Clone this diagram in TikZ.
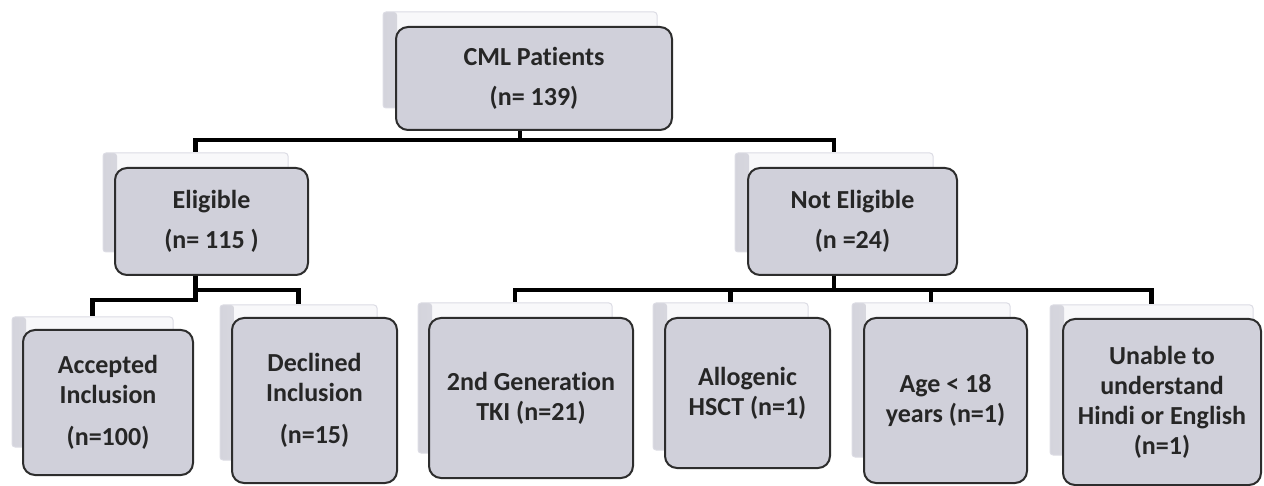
\documentclass[tikz,border=0pt]{standalone}
\usepackage{fontspec}
\setmainfont{Carlito}[RawFeature={-liga;-clig;-calt;-dlig}]
\usepackage{tikz}

\definecolor{boxfill}{RGB}{208,208,218}
\definecolor{boxline}{RGB}{45,45,45}
\definecolor{panelfill}{RGB}{248,248,250}
\definecolor{panelline}{RGB}{220,220,228}
\definecolor{paneledge}{RGB}{212,212,220}

\begin{document}
\begin{tikzpicture}
			[
				x=1pt, y=-1pt,
				align=center,
				font=\fontsize{26}{30}\selectfont\bfseries,
				box/.style={draw=boxline, fill=boxfill, line width=2pt, rounded corners=12pt, inner sep=0pt, text=black!85},
				panel/.style={draw=panelline, fill=panelfill, line width=1pt, rounded corners=3pt, inner sep=0pt,
					path picture={\shade[left color=paneledge, right color=panelfill]
						(path picture bounding box.north west) rectangle ([xshift=14pt]path picture bounding box.south west);}},
				link/.style={line width=4.5pt, black}
			]
			\useasboundingbox (0,0) rectangle (1264,486);

			% back panels
			\node[panel, minimum width=274pt, minimum height=96pt]  (cml-b)    at (  520.0,  60.0 ) {};
			\node[panel, minimum width=185pt, minimum height=99pt]  (elig-b)   at (  195.5, 202.5 ) {};
			\node[panel, minimum width=198pt, minimum height=99pt]  (nelig-b)  at (  834.0, 202.5 ) {};
			\node[panel, minimum width=161pt, minimum height=130pt] (acc-b)    at (   92.5, 382.0 ) {};
			\node[panel, minimum width=157pt, minimum height=155pt] (dec-b)    at (  298.5, 382.5 ) {};
			\node[panel, minimum width=194pt, minimum height=150pt] (tki-b)    at (  515.0, 378.0 ) {};
			\node[panel, minimum width=155pt, minimum height=147pt] (hsct-b)   at (  730.5, 376.5 ) {};
			\node[panel, minimum width=158pt, minimum height=154pt] (age-b)    at (  931.0, 380.0 ) {};
			\node[panel, minimum width=203pt, minimum height=150pt] (unable-b) at ( 1151.5, 380.0 ) {};

			% junctions
			\coordinate (cml-j)   at (  520.0, 140.0 );
			\coordinate (elig-j1) at (  195.5, 300.0 );
			\coordinate (elig-j2) at (  195.5, 290.0 );
			\coordinate (nelig-j) at (  834.0, 290.0 );

			% connector paths
			\draw[link] (cml-b) -- (cml-j);
			\foreach \to in {elig-b,nelig-b}
			\draw[link] (cml-j) -| (\to.north);

			\draw[link] (elig-b) -- (elig-j1) -| (acc-b.north);
			\draw[link] (elig-j2) -| (dec-b.north);

			\draw[link] (nelig-b) -- (nelig-j);
			\foreach \to in {tki-b,hsct-b,age-b,unable-b}
			\draw[link] (nelig-j) -| (\to.north);

			% boxes
			\node[box, minimum width=276pt, minimum height=103pt] (cml)    at (  534.0,  78.5 ) {CML Patients\\[10pt](n= 139)};
			\node[box, minimum width=193pt, minimum height=107pt] (elig)   at (  211.5, 221.5 ) {Eligible\\[10pt](n= 115 )};
			\node[box, minimum width=209pt, minimum height=107pt] (nelig)  at (  852.5, 221.5 ) {Not Eligible\\[10pt](n =24)};
			\node[box, minimum width=170pt, minimum height=145pt] (acc)    at (  108.0, 402.5 ) {Accepted\\Inclusion\\[12pt](n=100)};
			\node[box, minimum width=165pt, minimum height=165pt] (dec)    at (  314.5, 400.5 ) {Declined\\Inclusion\\[12pt](n=15)};
			\node[box, minimum width=204pt, minimum height=160pt] (tki)    at (  531.0, 398.0 ) {2nd Generation\\TKI (n=21)};
			\node[box, minimum width=165pt, minimum height=150pt] (hsct)   at (  747.5, 393.0 ) {Allogenic\\HSCT (n=1)};
			\node[box, minimum width=163pt, minimum height=165pt] (age)    at (  945.5, 400.5 ) {Age < 18\\years (n=1)};
			\node[box, minimum width=198pt, minimum height=166pt] (unable) at ( 1162.0, 402.0 ) {Unable to\\understand\\Hindi or English\\(n=1)};

		\end{tikzpicture}
\end{document}
